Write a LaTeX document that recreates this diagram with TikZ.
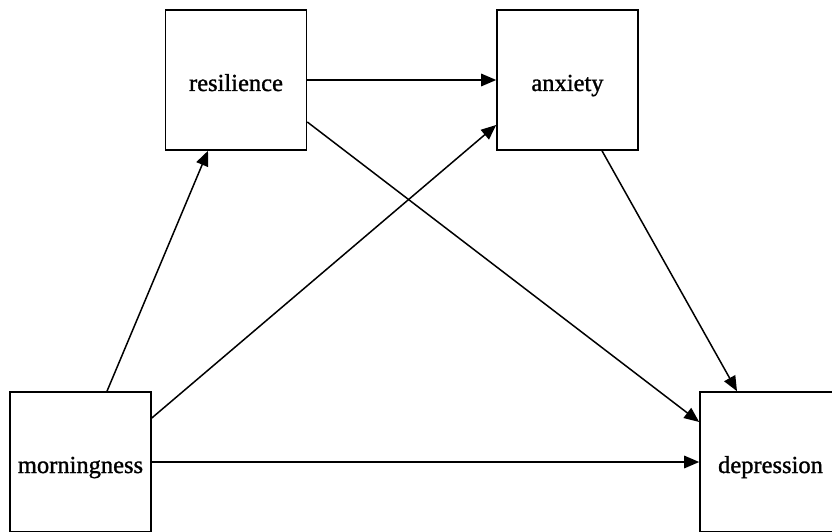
\documentclass[tikz,border=0pt]{standalone}
\usepackage{fontspec}
\setmainfont{Liberation Serif}
\newfontfamily\boxfont[FakeBold=1.2]{Liberation Serif}
\usetikzlibrary{arrows.meta}
\begin{document}
\begin{tikzpicture}[x=1pt,y=-1pt,
  box/.style={draw,line width=1.6pt,minimum width=141pt,minimum height=140pt,inner sep=0pt,text height=22pt,text depth=0pt,font=\boxfont\fontsize{24.5}{28}\selectfont},
  arr/.style={line width=1.5pt,-{Triangle[length=15pt,width=12.5pt]}}]
\useasboundingbox (0,0) rectangle (832,532);
\node[box] (r) at (236,80) {resilience};
\node[box] (a) at (567.5,80) {anxiety};
\node[box] (m) at (80.5,462) {morningness};
\node[box] (d) at (770.5,462) {depression};
\draw[arr] ([xshift=26.5pt]m.north) -- ([xshift=-28pt]r.south);
\draw[arr] ([yshift=44pt]m.east) -- ([yshift=-45pt]a.west);
\draw[arr] (m.east) -- (d.west);
\draw[arr] (r.east) -- (a.west);
\draw[arr] ([yshift=-42pt]r.east) -- ([yshift=40pt]d.west);
\draw[arr] ([xshift=34.5pt]a.south) -- ([xshift=-33.5pt]d.north);
\end{tikzpicture}
\end{document}
